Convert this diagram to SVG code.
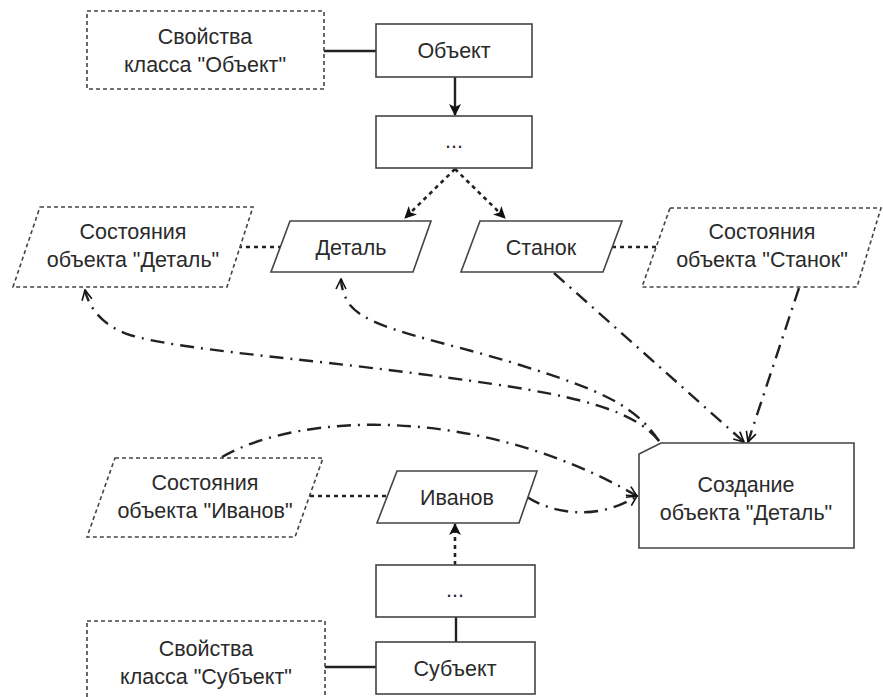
<svg xmlns="http://www.w3.org/2000/svg" width="883" height="697" viewBox="0 0 883 697">
<style>
.box{fill:#fff;stroke:#444;stroke-width:1.6}
.dbox{fill:#fff;stroke:#444;stroke-width:1.6;stroke-dasharray:4 3}
.t{font-family:"Liberation Sans",Arial,sans-serif;font-size:21.5px;fill:#2a2a2a;text-anchor:middle}
.solid{fill:none;stroke:#222;stroke-width:2.4}
.dot{fill:none;stroke:#222;stroke-width:2.6;stroke-dasharray:4 4}
.dd{fill:none;stroke:#222;stroke-width:2.4;stroke-dasharray:14 7 2 7}
</style>
<defs>
<marker id="fa" viewBox="0 0 12 12" refX="11" refY="6" markerWidth="12" markerHeight="12" markerUnits="userSpaceOnUse" orient="auto">
<path d="M0,0 L12,6 L0,12 L3,6 Z" fill="#111"/>
</marker>
<marker id="oa" viewBox="0 0 12 12" refX="11" refY="6" markerWidth="12" markerHeight="12" markerUnits="userSpaceOnUse" orient="auto">
<path d="M1,1 L11,6 L1,11" fill="none" stroke="#111" stroke-width="1.6"/>
</marker>
</defs>
<rect width="883" height="697" fill="#fff"/>
<g id="connectors">
<line class="solid" x1="324" y1="51" x2="376" y2="51"/>
<line class="solid" x1="455" y1="77" x2="455" y2="115" marker-end="url(#fa)"/>
<line class="dot" x1="455" y1="169" x2="405" y2="218" marker-end="url(#fa)"/>
<line class="dot" x1="455" y1="169" x2="505" y2="218" marker-end="url(#fa)"/>
<line class="dot" x1="238" y1="247" x2="280" y2="247"/>
<line class="dot" x1="612" y1="247" x2="657" y2="247"/>
<line class="dot" x1="310" y1="496" x2="388" y2="496"/>
<line class="dot" x1="455" y1="565" x2="455" y2="524" marker-end="url(#fa)"/>
<line class="solid" x1="456" y1="617" x2="456" y2="642"/>
<line class="solid" x1="325" y1="667" x2="376" y2="667"/>
<path class="dd" d="M659,441 C630,405 560,392 420,374 C300,358 180,350 130,335 C100,325 88,305 85,290" marker-end="url(#oa)"/>
<path class="dd" d="M659,441 C635,405 600,390 520,365 C440,340 370,330 350,305 C343,295 341,285 341,279" marker-end="url(#oa)"/>
<line class="dd" x1="554" y1="273" x2="744" y2="442" marker-end="url(#oa)"/>
<line class="dd" x1="799" y1="288" x2="748" y2="442" marker-end="url(#oa)"/>
<path class="dd" d="M222,457 C300,412 480,405 637,496" marker-end="url(#oa)"/>
<path class="dd" d="M527,497 C555,515 600,520 637,496" marker-end="url(#oa)"/>
</g>
<g id="props-object">
<rect class="dbox" x="87" y="11" width="237" height="78"/>
<text class="t" x="205" y="44">Свойства</text>
<text class="t" x="205" y="72">класса "Объект"</text>
</g>
<g id="object">
<rect class="box" x="376" y="24" width="156" height="53"/>
<text class="t" x="454" y="58">Объект</text>
</g>
<g id="dots-top">
<rect class="box" x="376" y="116" width="156" height="52"/>
<text class="t" x="454" y="148">...</text>
</g>
<g id="state-detal">
<polygon class="dbox" points="40,207 253,207 227,287 13,287"/>
<text class="t" x="133" y="239">Состояния</text>
<text class="t" x="133" y="267">объекта "Деталь"</text>
</g>
<g id="detal">
<polygon class="box" points="290,221 431,221 413,272 271,272"/>
<text class="t" x="351" y="255">Деталь</text>
</g>
<g id="stanok">
<polygon class="box" points="480,221 622,221 603,272 461,272"/>
<text class="t" x="541" y="255">Станок</text>
</g>
<g id="state-stanok">
<polygon class="dbox" points="670,208 881,208 857,287 642,287"/>
<text class="t" x="762" y="239">Состояния</text>
<text class="t" x="762" y="267">объекта "Станок"</text>
</g>
<g id="state-ivanov">
<polygon class="dbox" points="115,458 323,458 295,537 87,537"/>
<text class="t" x="205" y="490">Состояния</text>
<text class="t" x="205" y="518">объекта "Иванов"</text>
</g>
<g id="ivanov">
<polygon class="box" points="397,471 537,471 519,523 377,523"/>
<text class="t" x="457" y="505">Иванов</text>
</g>
<g id="create-detal">
<path class="box" d="M661,443 L854,443 L854,548 L639,548 L639,454 Z"/>
<text class="t" x="746" y="492">Создание</text>
<text class="t" x="746" y="520">объекта "Деталь"</text>
</g>
<g id="dots-bottom">
<rect class="box" x="376" y="565" width="159" height="52"/>
<text class="t" x="455" y="597">...</text>
</g>
<g id="subject">
<rect class="box" x="376" y="642" width="159" height="52"/>
<text class="t" x="455" y="676">Субъект</text>
</g>
<g id="props-subject">
<rect class="dbox" x="87" y="621" width="238" height="80"/>
<text class="t" x="206" y="656">Свойства</text>
<text class="t" x="206" y="684">класса "Субъект"</text>
</g>
</svg>
